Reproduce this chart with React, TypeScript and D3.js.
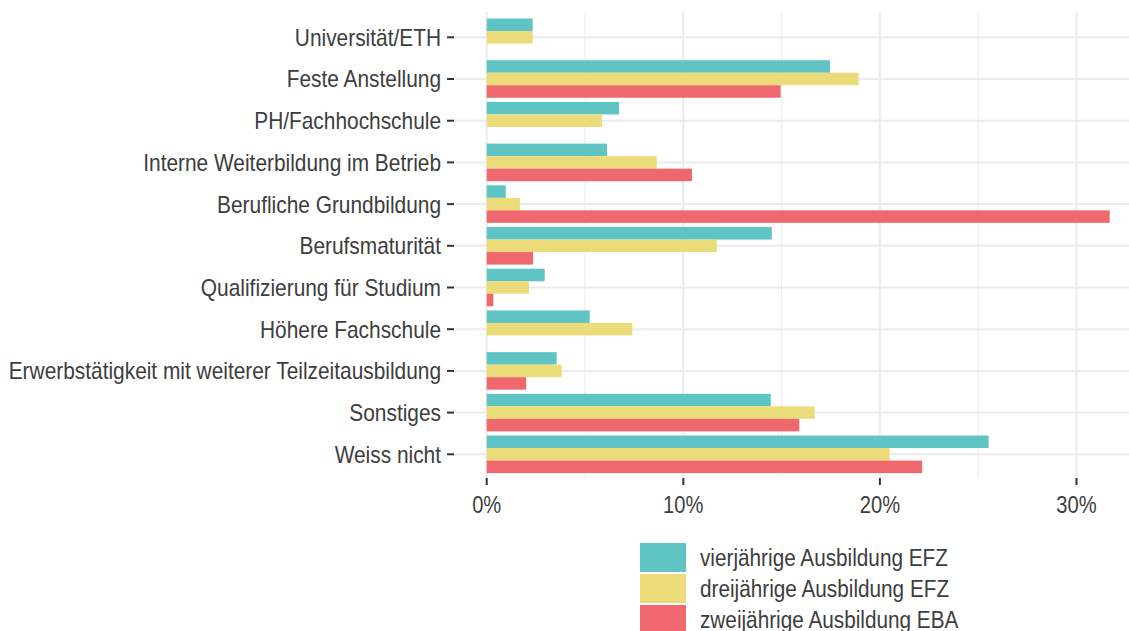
import React from 'react';
import * as d3 from 'd3';

const categories = [
  'Universität/ETH',
  'Feste Anstellung',
  'PH/Fachhochschule',
  'Interne Weiterbildung im Betrieb',
  'Berufliche Grundbildung',
  'Berufsmaturität',
  'Qualifizierung für Studium',
  'Höhere Fachschule',
  'Erwerbstätigkeit mit weiterer Teilzeitausbildung',
  'Sonstiges',
  'Weiss nicht',
];

const seriesNames = [
  'vierjährige Ausbildung EFZ',
  'dreijährige Ausbildung EFZ',
  'zweijährige Ausbildung EBA',
];

const seriesColors = ['#5ec4c4', '#ecdc79', '#ef686d'];

// percent values, null = no bar
const vierjaehrig = [2.34, 17.46, 6.73, 6.12, 0.97, 14.5, 2.95, 5.24, 3.56, 14.45, 25.53];
const dreijaehrig = [2.34, 18.92, 5.86, 8.65, 1.69, 11.7, 2.15, 7.41, 3.81, 16.68, 20.5];
const zweijaehrig: (number | null)[] = [null, 14.95, null, 10.44, 31.69, 2.36, 0.34, null, 2.01, 15.9, 22.15];

const seriesValues = [vierjaehrig, dreijaehrig, zweijaehrig];

const majorTicks = [0, 10, 20, 30];
const minorTicks = [5, 15, 25];

const W = 1129;
const H = 631;

// the source picture is squeezed horizontally, so text is too
const FS = 24;

const App: React.FC = () => {
  const x = d3.scaleLinear().domain([0, 31.69]).range([486.7, 1109.7]);
  const [d0, d1] = x.domain();
  const ext = (d1 - d0) * 0.05;
  const panelLeft = x(d0 - ext);
  const panelRight = x(d1 + ext);
  const panelTop = 12;
  const panelBottom = 478;

  const y = d3.scaleBand<string>()
    .domain(categories)
    .range([16.45, 475.15])
    .paddingInner(0.1)
    .paddingOuter(0.05);

  const inner = d3.scaleBand<number>()
    .domain([0, 1, 2])
    .range([0, y.bandwidth()]);

  const textColor = '#3d3d3d';
  const font = '"Liberation Sans", Arial, sans-serif';

  return (
    <svg width={W} height={H} style={{ position: 'absolute', left: 0, top: 0, background: '#fff' }}
      fontFamily={font}>
      {/* grid */}
      <g>
        {minorTicks.map(t => (
          <line key={'mi' + t} x1={x(t)} x2={x(t)} y1={panelTop} y2={panelBottom}
            stroke="#ebebeb" strokeWidth={1} />
        ))}
        {majorTicks.map(t => (
          <line key={'ma' + t} x1={x(t)} x2={x(t)} y1={panelTop} y2={panelBottom}
            stroke="#ebebeb" strokeWidth={2} />
        ))}
        {categories.map(c => {
          const cy = (y(c) || 0) + y.bandwidth() / 2;
          return (
            <line key={'h' + c} x1={panelLeft} x2={panelRight} y1={cy} y2={cy}
              stroke="#ebebeb" strokeWidth={2} />
          );
        })}
      </g>

      {/* bars */}
      <g>
        {categories.map((c, i) =>
          seriesValues.map((vals, s) => {
            const v = vals[i];
            if (v == null) return null;
            return (
              <rect key={c + s} x={x(0)} y={(y(c) || 0) + (inner(s) || 0)}
                width={x(v) - x(0)} height={inner.bandwidth()}
                fill={seriesColors[s]} />
            );
          })
        )}
      </g>

      {/* y axis */}
      <g>
        {categories.map(c => {
          const cy = (y(c) || 0) + y.bandwidth() / 2;
          return (
            <g key={'yl' + c}>
              <line x1={447} x2={454} y1={cy} y2={cy} stroke="#333" strokeWidth={2} />
              <text transform={`translate(441, ${cy}) scale(0.87, 1)`} dy="0.35em"
                textAnchor="end" fontSize={FS} fill={textColor}>{c}</text>
            </g>
          );
        })}
      </g>

      {/* x axis */}
      <g>
        {majorTicks.map(t => (
          <g key={'xl' + t}>
            <line x1={x(t)} x2={x(t)} y1={478} y2={485} stroke="#333" strokeWidth={2} />
            <text transform={`translate(${x(t)}, 513) scale(0.84, 1)`} textAnchor="middle"
              fontSize={FS} fill={textColor}>{t}%</text>
          </g>
        ))}
      </g>

      {/* legend */}
      <g>
        {seriesNames.map((n, s) => (
          <g key={'lg' + s} transform={`translate(640, ${543 + s * 31})`}>
            <rect x={0} y={0} width={46} height={29} fill={seriesColors[s]} />
            <text transform="translate(60, 14.5) scale(0.865, 1)" dy="0.35em"
              fontSize={FS} fill={textColor}>{n}</text>
          </g>
        ))}
      </g>
    </svg>
  );
};

export default App;
